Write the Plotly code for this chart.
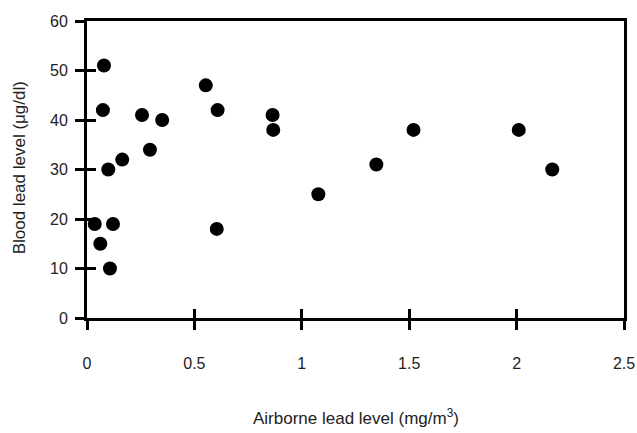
import plotly.graph_objects as go

airborne_lead = [0.036, 0.121, 0.062, 0.107, 0.079, 0.074, 0.099, 0.164, 0.256, 0.293,
                 0.350, 0.553, 0.604, 0.608, 0.864, 0.867, 1.077, 1.347, 1.520, 2.010, 2.166]
blood_lead = [19, 19, 15, 10, 51, 42, 30, 32, 41, 34,
              40, 47, 18, 42, 41, 38, 25, 31, 38, 38, 30]

x_ticks = [0, 0.5, 1, 1.5, 2, 2.5]
x_tick_labels = ["0", "0.5", "1", "1.5", "2", "2.5"]
y_ticks = [0, 10, 20, 30, 40, 50, 60]
y_tick_labels = ["0", "10", "20", "30", "40", "50", "60"]

tick_font = dict(family="Liberation Sans, Arial, sans-serif", size=16, color="#222")
title_font = dict(family="Liberation Sans, Arial, sans-serif", size=17, color="#222")

fig = go.Figure()
fig.add_trace(go.Scatter(
    x=airborne_lead, y=blood_lead, mode="markers",
    marker=dict(color="black", size=14, line=dict(width=0)),
    showlegend=False,
))
fig.add_trace(go.Scatter(x=[None], y=[None], xaxis="x2", yaxis="y2",
                         mode="markers", showlegend=False, hoverinfo="skip"))

fig.update_layout(
    width=637, height=433,
    margin=dict(l=87, r=13, t=21, b=115),
    paper_bgcolor="white", plot_bgcolor="white",
    font=tick_font,
    xaxis=dict(
        range=[0, 2.5], tickvals=x_ticks, ticktext=x_tick_labels,
        showgrid=False, zeroline=False, automargin=False,
        showline=True, linecolor="black", linewidth=3, mirror=True,
        ticks="outside", ticklen=9, tickwidth=3, tickcolor="black",
        ticklabelstandoff=20, tickfont=tick_font,
    ),
    yaxis=dict(
        range=[0, 60], tickvals=y_ticks, ticktext=y_tick_labels,
        showgrid=False, zeroline=False, automargin=False,
        showline=True, linecolor="black", linewidth=3, mirror=True,
        ticks="outside", ticklen=9, tickwidth=3, tickcolor="black",
        ticklabelstandoff=4, tickfont=tick_font,
    ),
    xaxis2=dict(
        range=[0, 2.5], tickvals=x_ticks, overlaying="x", anchor="y2",
        showgrid=False, zeroline=False, showline=False, showticklabels=False,
        ticks="inside", ticklen=9, tickwidth=3, tickcolor="black", automargin=False,
    ),
    yaxis2=dict(
        range=[0, 60], tickvals=y_ticks, overlaying="y", anchor="x2",
        showgrid=False, zeroline=False, showline=False, showticklabels=False,
        ticks="inside", ticklen=9, tickwidth=3, tickcolor="black", automargin=False,
    ),
    annotations=[
        dict(text="Airborne lead level (mg/m<sup>3</sup>)", xref="paper", yref="paper",
             x=0.5, y=-0.333, xanchor="center", yanchor="middle", showarrow=False,
             font=title_font),
        dict(text="Blood lead level (μg/dl)", xref="paper", yref="paper", textangle=-90,
             x=-0.126, y=0.505, xanchor="center", yanchor="middle", showarrow=False,
             font=title_font),
    ],
)

fig.write_html("out.html", config={"displayModeBar": False},
               post_script="document.body.style.margin='0';")
